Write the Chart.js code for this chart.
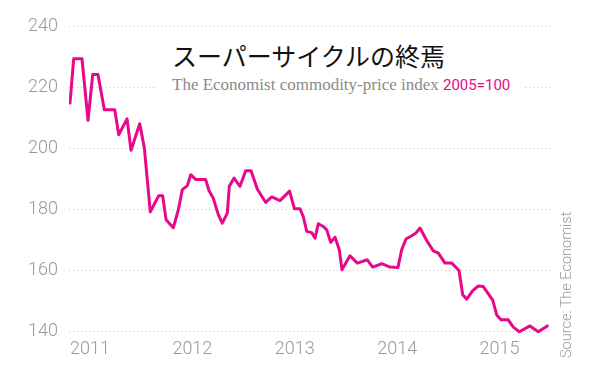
<!DOCTYPE html>
<html><head><meta charset="utf-8">
<script src="https://cdn.jsdelivr.net/npm/chart.js@4/dist/chart.umd.min.js"></script>
<style>
html,body{margin:0;padding:0;background:#fff;}
#wrap{position:relative;width:600px;height:366px;overflow:hidden;}
#c{position:absolute;left:0;top:0;}
#title-box{position:absolute;left:157px;top:36px;width:366px;height:64px;background:#fff;}
#title{position:absolute;left:15px;top:7px;font-family:"Noto Sans CJK JP";font-size:25px;line-height:25px;color:#111;white-space:nowrap;}
#subtitle{position:absolute;left:15px;top:41px;font-family:"Liberation Serif";font-size:17px;line-height:16px;color:#8a8a8a;white-space:nowrap;}
#subtitle span{font-family:Roboto;font-size:15px;color:#e8098a;}
#source{position:absolute;left:497px;top:281px;width:140px;text-align:center;font-family:Roboto;font-weight:300;font-size:14.5px;line-height:14px;color:#999;transform:rotate(-90deg);transform-origin:50% 50%;white-space:nowrap;}
</style></head>
<body>
<div id="wrap">
<canvas id="c" width="600" height="366"></canvas>
<div id="title-box">
<div id="title">スーパーサイクルの終焉</div>
<div id="subtitle">The Economist commodity-price index <span>2005=100</span></div>
</div>
<div id="source">Source: The Economist</div>
</div>
<script>
// Dates as decimal years
const dates = [
2011.000,2011.036,2011.117,2011.176,2011.222,2011.273,2011.335,2011.437,2011.476,2011.557,
2011.596,2011.681,2011.726,2011.784,2011.866,2011.905,2011.938,2012.009,2012.058,2012.097,
2012.146,2012.179,2012.230,2012.325,2012.357,2012.399,2012.448,2012.487,2012.536,2012.556,
2012.602,2012.660,2012.716,2012.768,2012.829,2012.911,2012.970,2013.051,2013.144,2013.192,
2013.246,2013.278,2013.312,2013.360,2013.393,2013.425,2013.474,2013.507,2013.546,2013.588,
2013.630,2013.656,2013.734,2013.806,2013.903,2013.956,2014.044,2014.125,2014.203,2014.239,
2014.281,2014.337,2014.379,2014.418,2014.483,2014.548,2014.597,2014.662,2014.728,2014.799,
2014.835,2014.874,2014.933,2014.987,2015.036,2015.128,2015.167,2015.209,2015.280,2015.329,
2015.388,2015.492,2015.573,2015.661
];
// Commodity-price index, 2005=100
const index = [
214.9,229.4,229.4,209.2,224.3,224.3,212.7,212.7,204.5,209.7,
199.4,208.1,200.2,179.2,184.5,184.5,176.6,174.0,179.9,186.5,
187.8,191.4,189.8,189.8,186.2,183.7,178.3,175.5,178.8,187.6,
190.3,187.6,192.7,192.7,186.7,182.3,184.1,182.9,186.0,180.2,
180.2,177.7,172.8,172.4,170.6,175.3,174.4,173.3,169.2,170.9,
166.8,160.2,164.8,162.4,163.5,161.1,162.2,161.1,161.0,166.8,
170.3,171.4,172.3,173.9,169.8,166.4,165.7,162.4,162.4,160.0,
152.0,150.6,153.4,154.9,154.7,150.3,145.4,143.8,143.8,141.4,
139.9,141.8,139.9,141.8
];
const yearTicks = [2011,2012,2013,2014,2015];
const valueTicks = [140,160,180,200,220,240];

const axisFont = {family:'Roboto', size:18, weight:'300'};
new Chart(document.getElementById('c').getContext('2d'), {
  type:'line',
  data:{datasets:[{
    data: dates.map((d,i)=>({x:d,y:index[i]})),
    borderColor:'#e8098a', borderWidth:3, pointRadius:0, tension:0, fill:false,
    borderJoinStyle:'round', borderCapStyle:'round'
  }]},
  options:{
    responsive:false, animation:false, devicePixelRatio:1,
    layout:{padding:{top:14,right:48,bottom:0,left:0}},
    plugins:{legend:{display:false},tooltip:{enabled:false},title:{display:false}},
    scales:{
      x:{type:'linear', min:2010.9902, max:2015.707,
        afterBuildTicks:s=>{s.ticks=yearTicks.map(v=>({value:v}));},
        afterFit:s=>{s.height=30; s.paddingLeft=0; s.paddingRight=0;},
        grid:{display:false, drawTicks:false}, border:{display:false},
        ticks:{align:'start', padding:3, color:'#999', font:axisFont, maxRotation:0, autoSkip:false, callback:v=>String(v)}},
      y:{min:138.5, max:244.1,
        afterBuildTicks:s=>{s.ticks=valueTicks.map(v=>({value:v}));},
        afterFit:s=>{s.width=69; s.paddingTop=0; s.paddingBottom=0;},
        grid:{color:'#c4c4c4', drawTicks:false, lineWidth:1},
        border:{display:false, dash:[1,3]},
        ticks:{padding:11, color:'#999', font:axisFont, callback:v=>String(v)}}
    }
  }
});
</script>
</body></html>
